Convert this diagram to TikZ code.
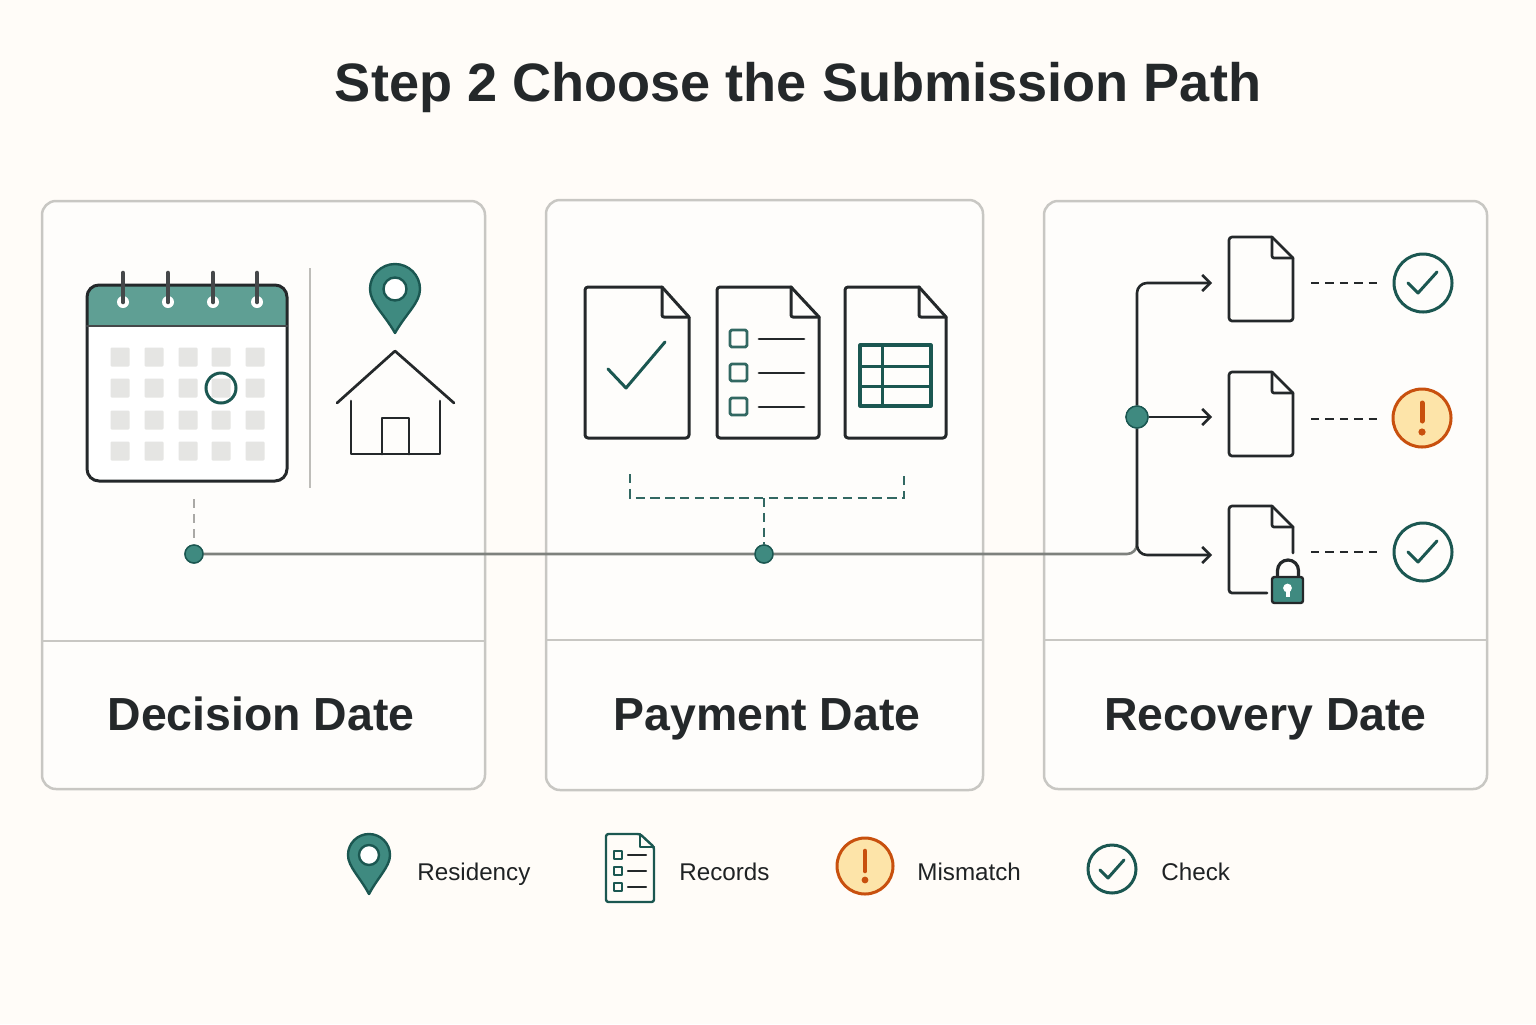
\documentclass[tikz,border=0pt]{standalone}
\usepackage{fontspec}
\setmainfont{Liberation Sans}
\usetikzlibrary{arrows.meta}
\definecolor{pagebg}{HTML}{FFFCF8}
\definecolor{panelbg}{HTML}{FEFDFB}
\definecolor{panelline}{HTML}{C8C7C3}
\definecolor{ink}{HTML}{24282A}
\definecolor{teal}{HTML}{1B5751}
\definecolor{tealfill}{HTML}{3F8A80}
\definecolor{headfill}{HTML}{5F9F94}
\definecolor{cell}{HTML}{E5E5E3}
\definecolor{trunk}{HTML}{7E817D}
\definecolor{warnfill}{HTML}{FDE4A9}
\definecolor{warnline}{HTML}{C8500E}
\tikzset{
 x=0.5pt,y=-0.5pt,
 panel/.style={draw=panelline,line width=1.25pt,fill=panelbg,rounded corners=7pt},
 rule/.style={draw=panelline,line width=1.1pt},
 icon/.style={draw=ink,line width=1.5pt,line join=round,line cap=round},
 tealstroke/.style={draw=teal,line width=1.5pt,line join=round,line cap=round},
 dotnode/.style={circle,draw=teal,fill=tealfill,line width=.7pt,minimum size=9pt,inner sep=0pt},
 trunkline/.style={draw=trunk,line width=1.3pt},
 branch/.style={draw=ink,line width=1.3pt,rounded corners=5pt,-{Straight Barb[length=4pt,width=8pt,line width=1.3pt]}},
 tealdash/.style={draw=teal!90!white,line width=1.4pt,dash pattern=on 4.7pt off 2.7pt},
 inkdash/.style={draw=ink,line width=1.4pt,dash pattern=on 4.2pt off 3pt},
 graydash/.style={draw=panelline!85!black,line width=1.3pt,dash pattern=on 4.5pt off 3pt},
 heading/.style={font=\fontsize{27.06}{32}\selectfont\bfseries,text=ink,inner sep=0pt,anchor=base},
 cardlabel/.style={font=\fontsize{23.2}{28}\selectfont\bfseries,text=ink,inner sep=0pt,anchor=base},
 legendlabel/.style={font=\fontsize{12.1}{15}\selectfont,text=ink!85!black,inner sep=0pt,anchor=base west},
 daycell/.style={fill=cell,rounded corners=.6pt},
 checkring/.style={circle,draw=teal,line width=1.5pt,fill=panelbg,inner sep=0pt},
 warnring/.style={circle,draw=warnline,line width=1.5pt,fill=warnfill,inner sep=0pt},
}
% doc outline: left,top,right,bottom,foldx,foldy
\newcommand\docshape[7][icon]{%
 \draw[#1,rounded corners=1.5pt] (#6,#3)--(#2,#3)--(#2,#5)--(#4,#5)--(#4,#7);
 \draw[#1] (#6,#3)--(#4,#7);
 \draw[#1,rounded corners=1pt] (#6,#3)--(#6,#7)--(#4,#7);
}
% pin: cx,cy,r,tipy,holer
\newcommand\pinshape[5]{%
 \draw[draw=teal,line width=1.2pt,fill=tealfill,line join=round]
  (#1,#4) .. controls ({#1-0.45*#3},{#4-0.45*(#4-#2)}) and ({#1-#3},{#2+0.55*#3}) .. ({#1-#3},#2)
  arc[start angle=180,end angle=0,radius=#3*0.5pt]
  .. controls ({#1+#3},{#2+0.55*#3}) and ({#1+0.45*#3},{#4-0.45*(#4-#2)}) .. (#1,#4) -- cycle;
 \draw[draw=teal,line width=1.2pt,fill=white] (#1,#2) circle[radius=#5*0.5pt];
}
\begin{document}
\begin{tikzpicture}
\fill[pagebg] (0,0) rectangle (1536,1024);
\useasboundingbox (0,0) rectangle (1536,1024);
\node[heading] (title) at (798,101) {Step 2 Choose the Submission Path};

% panels
\draw[panel] (42,201) rectangle (485,789);
\draw[rule] (42,641) -- (485,641);
\draw[panel] (546,200) rectangle (983,790);
\draw[rule] (546,640) -- (983,640);
\draw[panel] (1044,201) rectangle (1487,789);
\draw[rule] (1044,640) -- (1487,640);
\node[cardlabel] (l1) at (261,730) {Decision Date};
\node[cardlabel] (l2) at (767,730) {Payment Date};
\node[cardlabel] (l3) at (1265.5,730) {Recovery Date};

% calendar
\draw[fill=white,draw=none,rounded corners=6pt] (87,285) rectangle (287,481);
\fill[headfill,rounded corners=6pt] (87,340) -- (87,285) -- (287,285) -- (287,340) -- cycle;
\fill[white] (87,326) rectangle (287,345);
\foreach \cx in {120,154,188,221,255}
 \foreach \cy in {357,388,420,451}
  \fill[daycell] ({\cx-9.5},{\cy-9.5}) rectangle ({\cx+9.5},{\cy+9.5});
\draw[icon,rounded corners=6pt] (87,285) rectangle (287,481);
\draw[icon,draw=ink!85!white,line width=1.3pt] (87,326) -- (287,326);
\foreach \rx in {123,168,213,257}{
 \fill[white] (\rx,302) circle[radius=3pt];
 \draw[draw=ink!85!white,line width=2.3pt,line cap=round] (\rx,273) -- (\rx,302);
}
\draw[draw=teal,line width=1.5pt] (221,388) circle[radius=7.5pt];
\draw[draw=panelline!95!black,line width=1.1pt] (310,268) -- (310,488);

% pin + house
\pinshape{395}{289}{25}{333}{11.5}
\draw[icon,line width=1.35pt] (337,403) -- (395,351) -- (454,403);
\draw[icon,line width=1.35pt] (351,401) -- (351,454) -- (440,454) -- (440,401);
\draw[icon,line width=1.35pt] (382,454) -- (382,418) -- (409,418) -- (409,454);

% panel 2 docs
\docshape{585}{287}{689}{438}{662}{317}
\draw[tealstroke] (608,369) -- (626,388) -- (665,342);
\docshape{717}{287}{819}{438}{791}{317}
\foreach \by in {330,364,398}
 \draw[tealstroke,draw=teal!90!white,line width=1.4pt,rounded corners=.8pt] (730,\by) rectangle (747,{\by+17});
\foreach \by in {339,373,407}
 \draw[icon,line width=1.4pt] (759,\by) -- (804,\by);
\docshape{845}{287}{946}{438}{919}{317}
\draw[tealstroke,line width=1.6pt] (860,345) rectangle (931,406);
\draw[tealstroke,line width=1.5pt] (860,366) -- (931,366) (860,386) -- (931,386) (882,345) -- (882,406);

% trunk
\coordinate (bendbot) at (1137,554);
\coordinate (bt) at (630,474);
\coordinate (bl) at (630,498);
\coordinate (br) at (904,498);
\coordinate (bb) at (904,474);
\coordinate (bm) at (764,498);
\node[dotnode] (d1) at (194,554) {};
\node[dotnode] (d2) at (764,554) {};
\coordinate (c1) at (194,499);
\draw[graydash] (c1) -- (d1);
\draw[tealdash] (bt) -- (bl) -- (br) -- (bb);
\draw[tealdash] (bm) -- (d2);
\node[dotnode,minimum size=11pt] (d3) at (1137,417) {};
\coordinate (a1) at (1212,283);
\coordinate (a2) at (1212,417);
\coordinate (a3) at (1212,555);
\draw[trunkline,rounded corners=5pt] (d1) -- (d2) -- (bendbot) -- (1137,530);
\draw[branch] (d3) |- (a1);
\draw[branch] (d3) -- (a2);
\draw[branch] (d3) |- (a3);
\node[dotnode,minimum size=11pt] at (d3) {};
\node[dotnode] at (d1) {};
\node[dotnode] at (d2) {};

% panel 3 docs
\docshape[icon,line width=1.35pt]{1229}{237}{1293}{321}{1272}{258}
\docshape[icon,line width=1.35pt]{1229}{372}{1293}{456}{1272}{393}
\draw[icon,line width=1.35pt,rounded corners=1.5pt] (1272,506)--(1229,506)--(1229,593)--(1267,593);
\draw[icon,line width=1.35pt] (1272,506)--(1293,527)--(1293,553);
\draw[icon,line width=1.35pt,rounded corners=1pt] (1272,506)--(1272,527)--(1293,527);
\draw[draw=ink,line width=1.6pt] (1277.5,577) -- (1277.5,570.5) arc[start angle=180,end angle=0,radius=5.25pt] -- (1298.5,577);
\draw[draw=ink,line width=1.2pt,fill=tealfill,rounded corners=1.2pt] (1272,577) rectangle (1303,603);
\fill[white] (1287.5,588) circle[radius=2.2pt];
\fill[white] (1285.5,589) rectangle (1289.5,597);

% status
\coordinate (t1) at (1311,283);
\node[checkring,minimum size=29pt] (s1) at (1423,283) {};
\coordinate (t2) at (1311,419);
\node[warnring,minimum size=29pt] (s2) at (1422,418) {};
\coordinate (t3) at (1311,552);
\node[checkring,minimum size=29pt] (s3) at (1423,552) {};
\coordinate (u1) at (1377,283);
\coordinate (u2) at (1377,419);
\coordinate (u3) at (1377,552);
\draw[inkdash] (t1) -- (u1);
\draw[inkdash] (t2) -- (u2);
\draw[inkdash] (t3) -- (u3);
\draw[tealstroke] (1408,283) -- (1418,293) -- (1437,272);
\draw[tealstroke] (1408,552) -- (1418,562) -- (1437,541);
\draw[draw=warnline,line width=2.5pt,line cap=round] (1422,403) -- (1422,421);
\fill[warnline] (1422,432) circle[radius=1.8pt];

% legend
\pinshape{369}{855}{21}{894}{10}
\node[legendlabel] (n1) at (417,880) {Residency};
\draw[tealstroke,line width=1.2pt,rounded corners=1.2pt] (640,834)--(606,834)--(606,902)--(654,902)--(654,847)--cycle;
\draw[tealstroke,line width=1.2pt] (640,834)--(640,847)--(654,847);
\foreach \by in {851,867,883}
 \draw[tealstroke,line width=1.2pt] (614,\by) rectangle (622,{\by+8});
\foreach \by in {855,871,887}
 \draw[icon,line width=1.1pt] (628,\by) -- (646,\by);
\node[legendlabel] (n2) at (679,880) {Records};
\node[warnring,minimum size=28pt] (n3i) at (865,866) {};
\draw[draw=warnline,line width=2.3pt,line cap=round] (865,851) -- (865,871);
\fill[warnline] (865,880) circle[radius=1.7pt];
\node[legendlabel] (n3) at (917,880) {Mismatch};
\node[checkring,fill=none,minimum size=24pt] (n4i) at (1112,869) {};
\draw[tealstroke] (1100,870) -- (1108,878) -- (1124,860);
\node[legendlabel] (n4) at (1161,880) {Check};
\end{tikzpicture}
\end{document}
